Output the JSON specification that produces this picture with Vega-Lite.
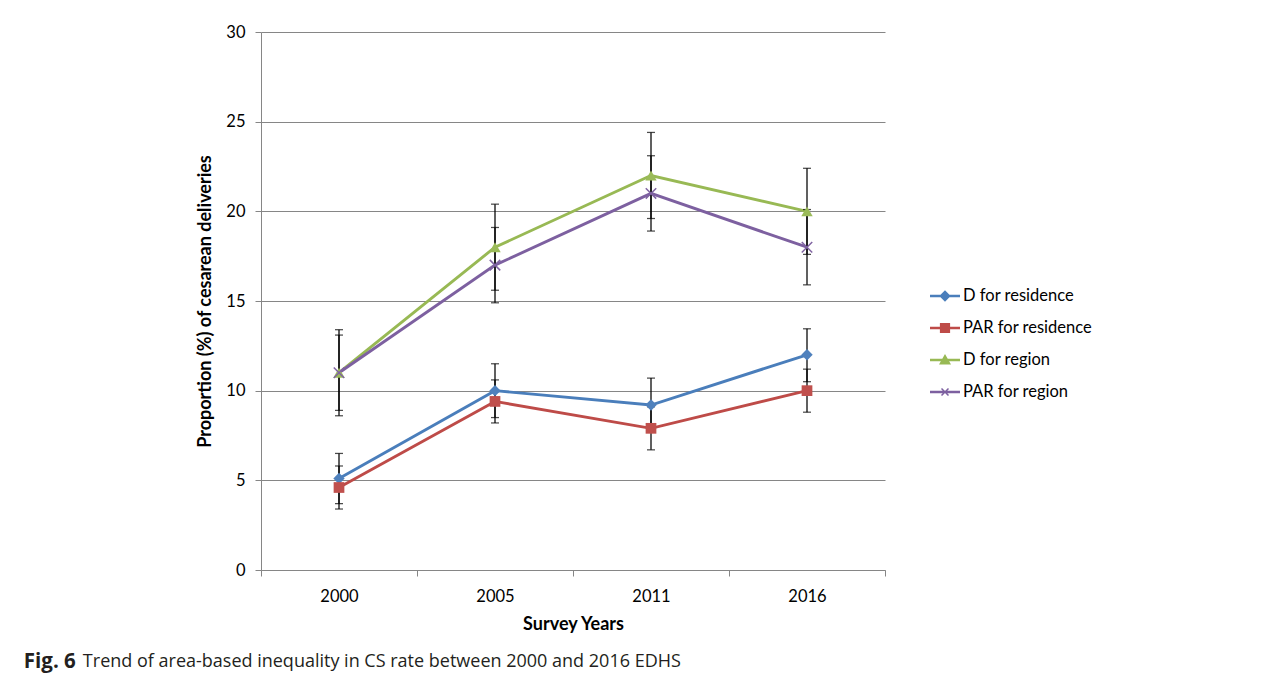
{
  "$schema": "https://vega.github.io/schema/vega-lite/v6.json",
  "padding": {"left": 23, "top": 24, "right": 5, "bottom": 12},
  "background": "white",
  "config": {
    "font": "Lato",
    "view": {"stroke": null},
    "axis": {
      "labelFont": "Lato", "labelFontSize": 16.5, "labelColor": "#000000",
      "titleFont": "Lato", "titleFontSize": 18, "titleFontWeight": "bold", "titleColor": "#000000",
      "domainColor": "#868686", "tickColor": "#868686", "gridColor": "#868686",
      "tickSize": 6, "domainWidth": 1, "gridWidth": 1
    },
    "legend": {
      "symbolSize": 900, "symbolOpacity": 1, "labelFont": "Lato", "labelFontSize": 16.5, "labelColor": "#000000",
      "labelOffset": 3, "rowPadding": 8, "symbolStrokeWidth": 0, "padding": 0
    }
  },
  "datasets": {
    "main": [
      {"year": "2000", "series": "D for residence", "value": 5.1, "lo": 3.7, "hi": 6.5},
      {"year": "2005", "series": "D for residence", "value": 10.0, "lo": 8.5, "hi": 11.5},
      {"year": "2011", "series": "D for residence", "value": 9.2, "lo": 7.7, "hi": 10.7},
      {"year": "2016", "series": "D for residence", "value": 12.0, "lo": 10.5, "hi": 13.45},
      {"year": "2000", "series": "PAR for residence", "value": 4.6, "lo": 3.4, "hi": 5.8},
      {"year": "2005", "series": "PAR for residence", "value": 9.4, "lo": 8.2, "hi": 10.6},
      {"year": "2011", "series": "PAR for residence", "value": 7.9, "lo": 6.7, "hi": 9.1},
      {"year": "2016", "series": "PAR for residence", "value": 10.0, "lo": 8.8, "hi": 11.2},
      {"year": "2000", "series": "D for region", "value": 11.0, "lo": 8.6, "hi": 13.4},
      {"year": "2005", "series": "D for region", "value": 18.0, "lo": 15.6, "hi": 20.4},
      {"year": "2011", "series": "D for region", "value": 22.0, "lo": 19.6, "hi": 24.4},
      {"year": "2016", "series": "D for region", "value": 20.0, "lo": 17.6, "hi": 22.4},
      {"year": "2000", "series": "PAR for region", "value": 11.0, "lo": 8.9, "hi": 13.1},
      {"year": "2005", "series": "PAR for region", "value": 17.0, "lo": 14.9, "hi": 19.1},
      {"year": "2011", "series": "PAR for region", "value": 21.0, "lo": 18.9, "hi": 23.1},
      {"year": "2016", "series": "PAR for region", "value": 18.0, "lo": 15.9, "hi": 20.1}
    ]
  },
  "title": {
    "text": "Trend of area-based inequality in CS rate between 2000 and 2016 EDHS",
    "orient": "bottom", "anchor": "start", "font": "Open Sans", "fontSize": 18,
    "fontWeight": "normal", "color": "#231f20", "dx": 59, "dy": -19, "offset": 0
  },
  "vconcat": [
    {
      "width": 624,
      "height": 538,
      "data": {"name": "main"},
      "title": {
        "text": "Fig. 6", "orient": "bottom", "anchor": "start", "font": "Open Sans",
        "fontSize": 20.5, "fontWeight": "bold", "color": "#231f20", "dx": -173, "offset": 18
      },
      "encoding": {
        "x": {
          "field": "year", "type": "ordinal", "bandPosition": 0.5,
          "scale": {"type": "band", "paddingInner": 0, "paddingOuter": 0},
          "axis": {
            "title": "Survey Years", "labelAngle": 0, "tickBand": "extent", "grid": false,
            "labelPadding": 12, "titlePadding": 11
          }
        }
      },
      "layer": [
        {
          "mark": {"type": "line", "strokeWidth": 2.9},
          "encoding": {
            "y": {
              "field": "value", "type": "quantitative",
              "scale": {"domain": [0, 30], "nice": false},
              "axis": {
                "title": "Proportion (%) of cesarean deliveries",
                "values": [0, 5, 10, 15, 20, 25, 30], "grid": true,
                "labelPadding": 10, "titlePadding": 11
              }
            },
            "stroke": {
              "field": "series", "type": "nominal", "legend": null,
              "scale": {"range": ["#98B954", "#4A7EBB", "#7D60A0", "#BE4B48"]}
            }
          }
        },
        {
          "mark": {"type": "rule", "color": "#000000", "strokeWidth": 1.25},
          "encoding": {
            "y": {"field": "lo", "type": "quantitative"},
            "y2": {"field": "hi"}
          }
        },
        {
          "mark": {"type": "tick", "color": "#000000", "thickness": 1.25, "size": 8},
          "encoding": {"y": {"field": "lo", "type": "quantitative"}}
        },
        {
          "mark": {"type": "tick", "color": "#000000", "thickness": 1.25, "size": 8},
          "encoding": {"y": {"field": "hi", "type": "quantitative"}}
        },
        {
          "transform": [{"filter": "datum.series === 'D for residence'"}],
          "mark": {"type": "point", "shape": "diamond", "filled": true, "size": 130, "color": "#4F81BD", "opacity": 1},
          "encoding": {"y": {"field": "value", "type": "quantitative"}}
        },
        {
          "transform": [{"filter": "datum.series === 'PAR for residence'"}],
          "mark": {"type": "point", "shape": "square", "filled": true, "size": 115, "color": "#C0504D", "opacity": 1},
          "encoding": {"y": {"field": "value", "type": "quantitative"}}
        },
        {
          "transform": [{"filter": "datum.series === 'D for region'"}],
          "mark": {"type": "point", "shape": "triangle-up", "filled": true, "size": 130, "color": "#9BBB59", "opacity": 1},
          "encoding": {"y": {"field": "value", "type": "quantitative"}}
        },
        {
          "transform": [{"filter": "datum.series === 'PAR for region'"}],
          "mark": {"type": "point", "shape": "M-1,-1L1,1M-1,1L1,-1", "filled": false, "size": 110, "color": "#8064A2", "strokeWidth": 1.5, "opacity": 1},
          "encoding": {"y": {"field": "value", "type": "quantitative"}}
        },
        {
          "mark": {"type": "point", "filled": true, "opacity": 0},
          "encoding": {
            "y": {"field": "value", "type": "quantitative"},
            "color": {
              "field": "series", "type": "nominal",
              "scale": {
                "domain": ["D for residence", "PAR for residence", "D for region", "PAR for region"],
                "range": ["#4A7EBB", "#BE4B48", "#98B954", "#7D60A0"]
              },
              "legend": {"title": null, "orient": "none", "legendX": 669, "legendY": 249}
            },
            "shape": {
              "field": "series", "type": "nominal",
              "scale": {
                "domain": ["D for residence", "PAR for residence", "D for region", "PAR for region"],
                "range": [
                  "M-1,-0.09H1V0.09H-1ZM0,-0.38L0.38,0L0,0.38L-0.38,0Z",
                  "M-1,-0.09H1V0.09H-1ZM-0.34,-0.34H0.34V0.34H-0.34Z",
                  "M-1,-0.09H1V0.09H-1ZM0,-0.4L0.4,0.3H-0.4Z",
                  "M-1,-0.09H1V0.09H-1ZM-0.268,-0.198L-0.198,-0.268L0.268,0.198L0.198,0.268ZM-0.198,0.268L-0.268,0.198L0.198,-0.268L0.268,-0.198Z"
                ]
              },
              "legend": {"title": null, "orient": "none", "legendX": 669, "legendY": 249}
            }
          }
        }
      ]
    }
  ]
}
